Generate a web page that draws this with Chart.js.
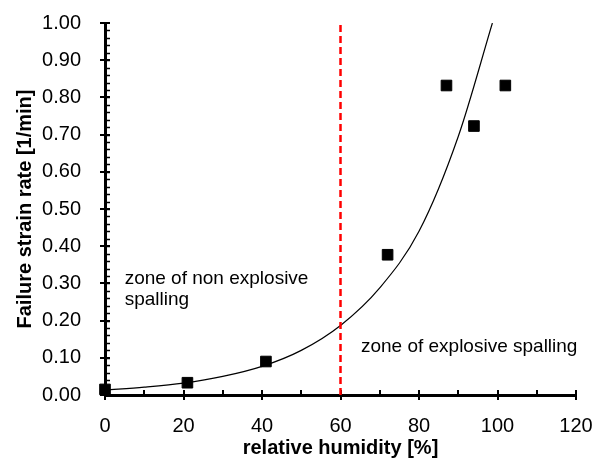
<!DOCTYPE html>
<html>
<head>
<meta charset="utf-8">
<script src="https://cdn.jsdelivr.net/npm/chart.js@4/dist/chart.umd.min.js"></script>
<style>
  html, body { margin: 0; padding: 0; background: #fff; }
  #wrap { width: 615px; height: 460px; }
</style>
</head>
<body>
<div id="wrap"><canvas id="chart" width="615" height="460"></canvas></div>
<script>
// measured points
const humidity = [0, 21, 41, 72, 87, 94, 102];
const strainRate = [0.015, 0.033, 0.09, 0.377, 0.832, 0.723, 0.832];

// exponential trendline, sampled along the drawn curve
const trendX = [0, 10, 20, 30, 40, 50, 60, 70, 80, 90, 98.7];
const trendY = [0.013, 0.021, 0.032, 0.050, 0.077, 0.12, 0.187, 0.288, 0.44, 0.695, 1.0];

// boundary between the two zones
const limitX = [60, 60];
const limitY = [0, 1];

const xRange = [0, 120];
const yRange = [0, 1];
const xMinor = [10, 30, 50, 70, 90, 110];
const xMajor = [0, 20, 40, 60, 80, 100, 120];
const yMajor = [0, 0.1, 0.2, 0.3, 0.4, 0.5, 0.6, 0.7, 0.8, 0.9, 1.0];
const yMinorStep = 0.02;

const notes = [
  { lines: ['zone of non explosive', 'spalling'], x: 5, y: 0.313 },
  { lines: ['zone of explosive spalling'], x: 65.2, y: 0.13 }
];

const FONT = '"Liberation Sans", Arial, sans-serif';

const toPts = (xs, ys) => xs.map((x, i) => ({ x: x, y: ys[i] }));

// cross ticks + minor ticks like the spreadsheet axes
const axisTicks = {
  id: 'axisTicks',
  beforeDatasetsDraw(chart) {
    const { ctx, chartArea, scales } = chart;
    const x = scales.x, y = scales.y;
    ctx.save();
    ctx.strokeStyle = '#000';
    ctx.lineWidth = 2;
    yMajor.forEach(v => {
      const py = Math.round(y.getPixelForValue(v));
      ctx.beginPath();
      ctx.moveTo(chartArea.left - 5, py);
      ctx.lineTo(chartArea.left + 5, py);
      ctx.stroke();
    });
    ctx.lineWidth = 1.5;
    for (let v = yRange[0]; v < yRange[1] - 0.001; v += yMinorStep) {
      const py = Math.round(y.getPixelForValue(v)) + 0.5;
      ctx.beginPath();
      ctx.moveTo(chartArea.left, py);
      ctx.lineTo(chartArea.left + 5, py);
      ctx.stroke();
    }
    ctx.lineWidth = 2;
    xMajor.forEach(v => {
      const px = Math.round(x.getPixelForValue(v));
      ctx.beginPath();
      ctx.moveTo(px, chartArea.bottom - 5);
      ctx.lineTo(px, chartArea.bottom + 5);
      ctx.stroke();
    });
    xMinor.forEach(v => {
      const px = Math.round(x.getPixelForValue(v));
      ctx.beginPath();
      ctx.moveTo(px, chartArea.bottom - 5);
      ctx.lineTo(px, chartArea.bottom);
      ctx.stroke();
    });
    ctx.restore();
  }
};

const zoneNotes = {
  id: 'zoneNotes',
  afterDatasetsDraw(chart) {
    const { ctx, scales } = chart;
    ctx.save();
    ctx.fillStyle = '#000';
    ctx.font = '19px ' + FONT;
    ctx.textAlign = 'left';
    ctx.textBaseline = 'middle';
    notes.forEach(n => {
      const px = scales.x.getPixelForValue(n.x);
      const py = scales.y.getPixelForValue(n.y);
      n.lines.forEach((t, i) => ctx.fillText(t, px, py + i * 21));
    });
    ctx.restore();
  }
};

new Chart(document.getElementById('chart'), {
  type: 'scatter',
  data: {
    datasets: [
      {
        label: 'limit',
        type: 'line',
        data: toPts(limitX, limitY),
        borderColor: '#ff0000',
        borderWidth: 2.5,
        borderDash: [7, 4],
        pointRadius: 0,
        fill: false
      },
      {
        label: 'trend',
        type: 'line',
        data: toPts(trendX, trendY),
        borderColor: '#000',
        borderWidth: 1.2,
        pointRadius: 0,
        cubicInterpolationMode: 'monotone',
        fill: false
      },
      {
        label: 'measured',
        data: toPts(humidity, strainRate),
        clip: false,
        pointStyle: 'rect',
        pointRadius: 7.5,
        pointHoverRadius: 7.5,
        backgroundColor: '#000',
        borderColor: '#000',
        borderWidth: 1
      }
    ]
  },
  options: {
    responsive: false,
    animation: false,
    events: [],
    layout: { padding: { top: 23, right: 39, left: 0, bottom: 0 } },
    plugins: {
      legend: { display: false },
      tooltip: { enabled: false }
    },
    scales: {
      x: {
        type: 'linear',
        min: xRange[0],
        max: xRange[1],
        afterFit: s => {
          s.height = 460 - 395;
          s.paddingLeft = 0;
          s.paddingRight = 0;
        },
        grid: { display: false, drawTicks: false },
        border: { display: true, color: '#000', width: 3 },
        ticks: {
          stepSize: 20,
          padding: 19,
          color: '#000',
          font: { family: FONT, size: 20 }
        },
        title: {
          display: true,
          text: 'relative humidity [%]',
          color: '#000',
          font: { family: FONT, size: 20, weight: 'bold' },
          padding: { top: 0, bottom: 0 }
        }
      },
      y: {
        type: 'linear',
        min: yRange[0],
        max: yRange[1],
        afterFit: s => {
          s.width = 105;
          s.paddingTop = 0;
          s.paddingBottom = 0;
        },
        grid: { display: false, drawTicks: false },
        border: { display: true, color: '#000', width: 3 },
        ticks: {
          stepSize: 0.1,
          padding: 24,
          color: '#000',
          font: { family: FONT, size: 20 },
          callback: v => Number(v).toFixed(2)
        },
        title: {
          display: true,
          text: 'Failure strain rate [1/min]',
          color: '#000',
          font: { family: FONT, size: 20, weight: 'bold' },
          padding: { top: 13, bottom: 0 }
        }
      }
    }
  },
  plugins: [axisTicks, zoneNotes]
});
</script>
</body>
</html>
